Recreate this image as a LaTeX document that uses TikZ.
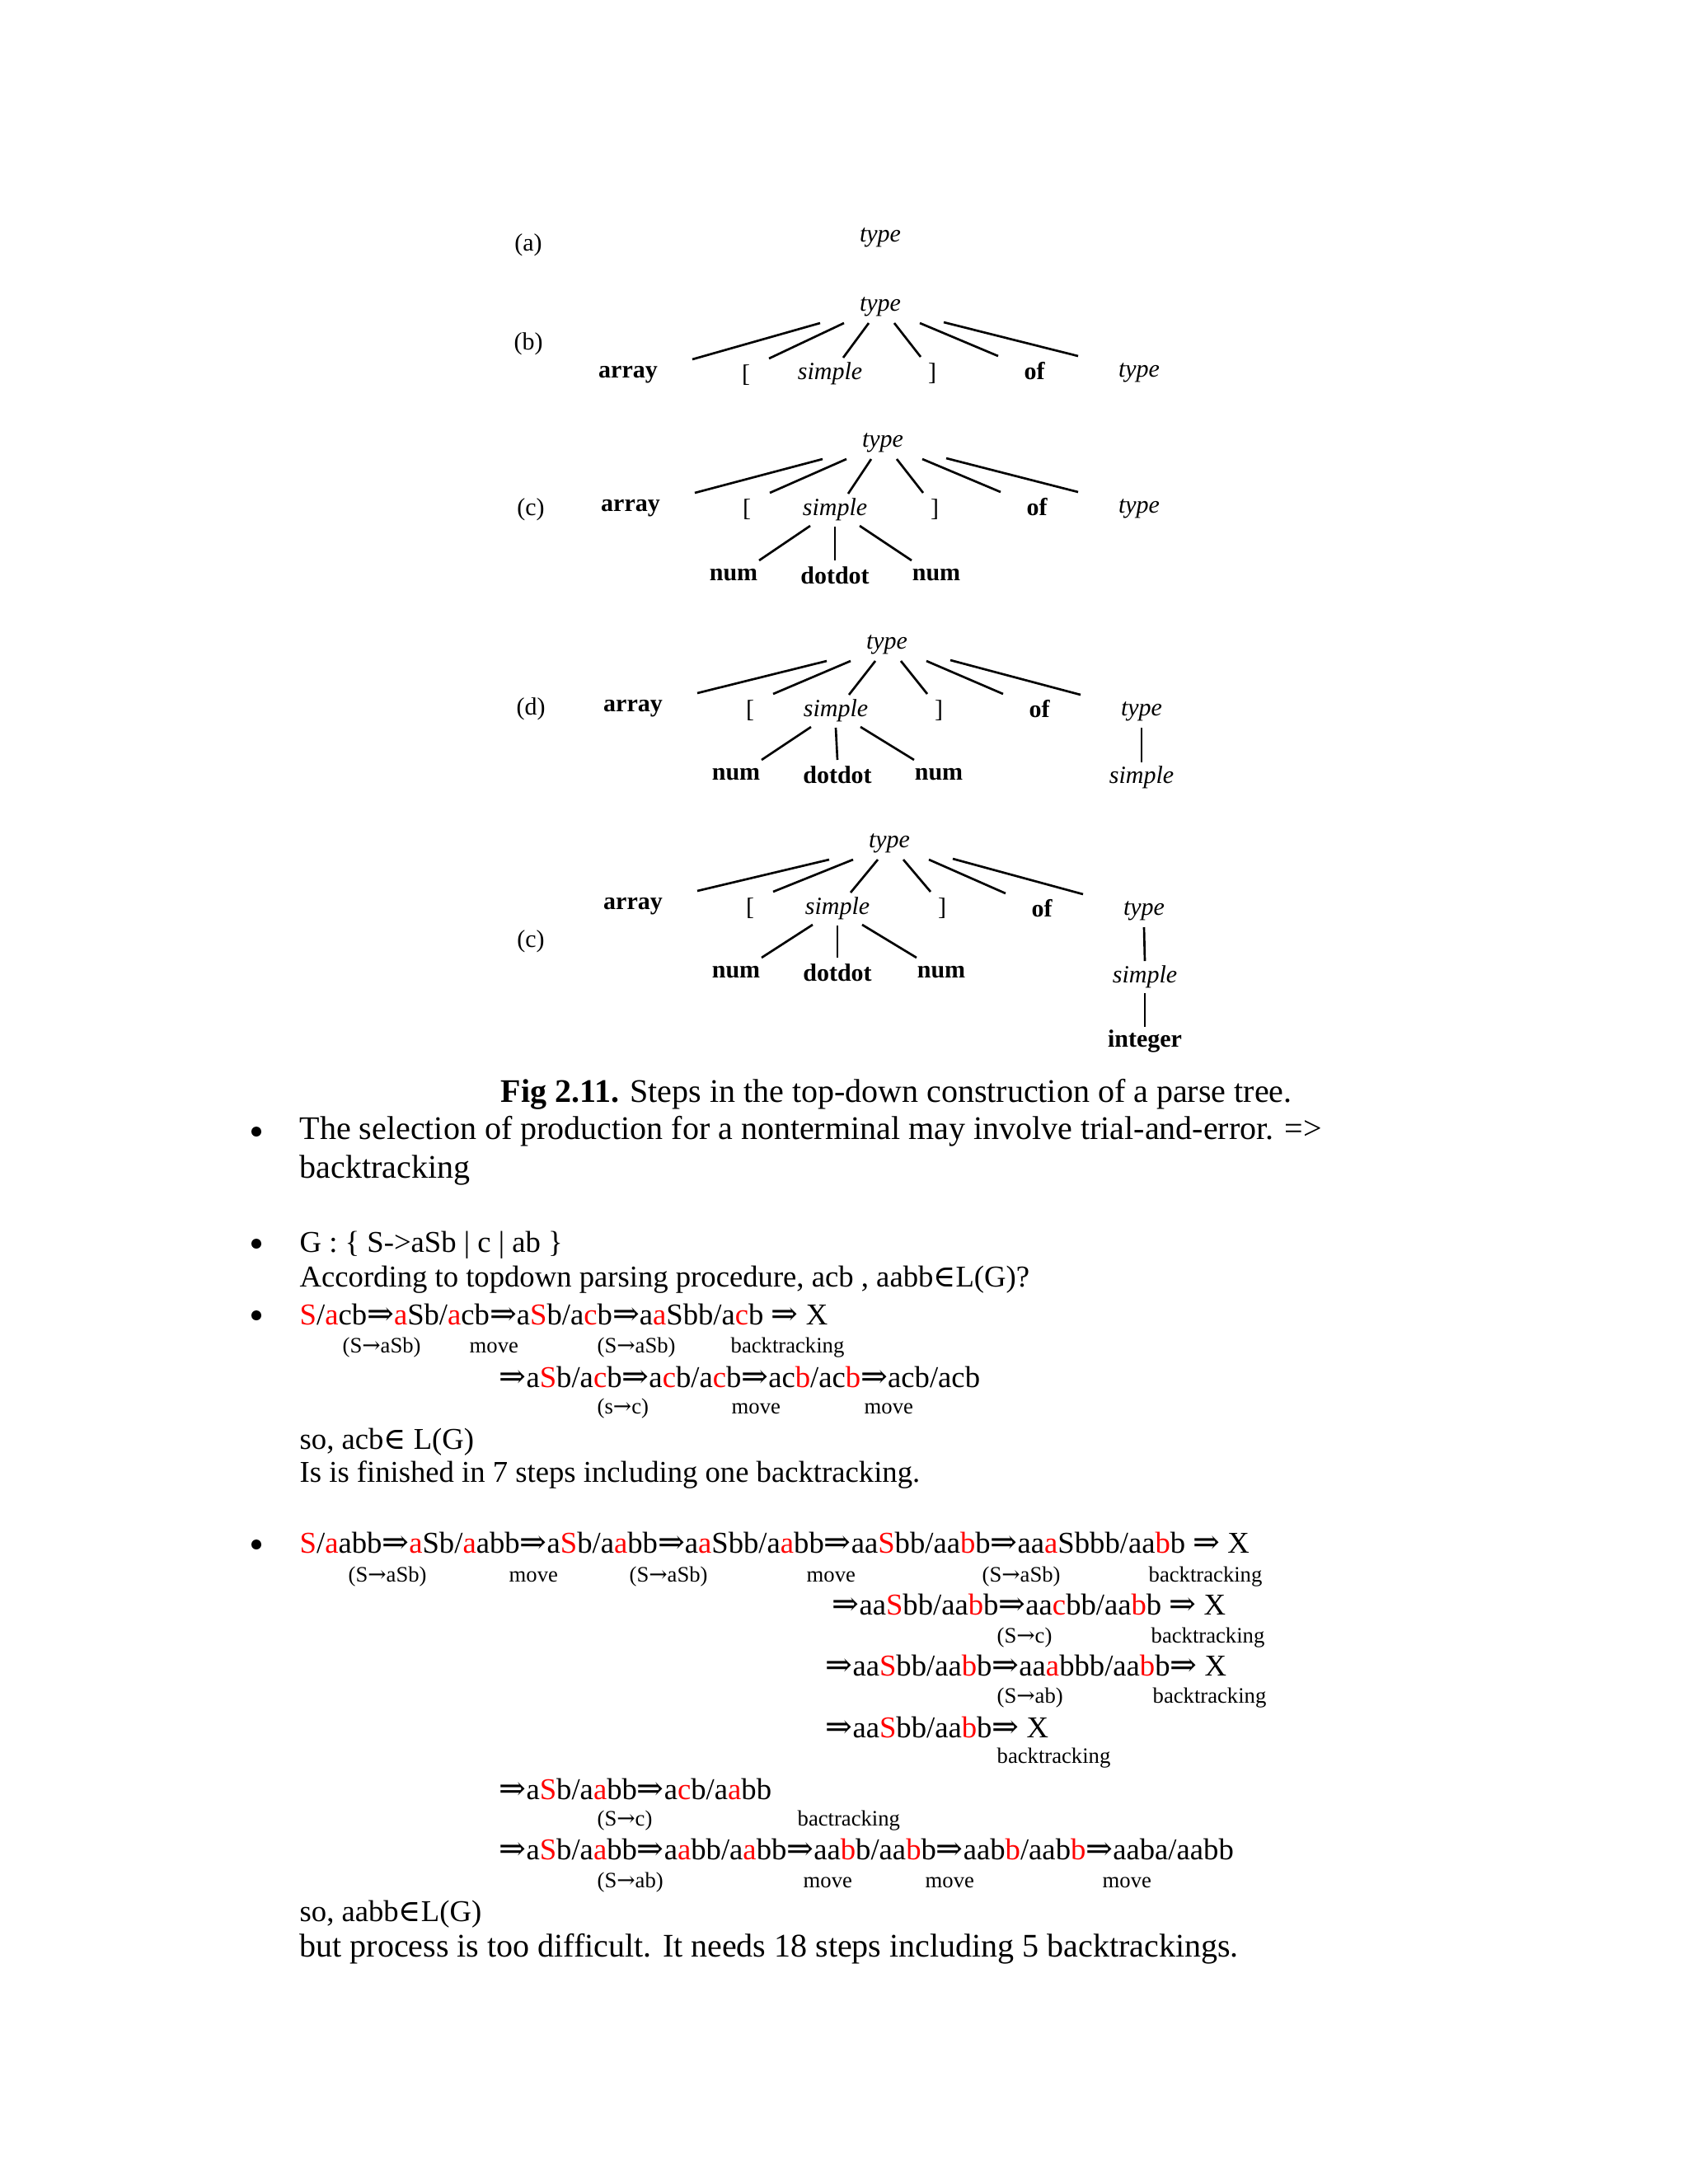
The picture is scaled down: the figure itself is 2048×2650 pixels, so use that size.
\documentclass[tikz,border=0pt]{standalone}
\usepackage{fontspec}
\setmainfont{Liberation Serif}
\newfontfamily\symfont{DejaVu Serif}
\newfontfamily\dblfont[Scale=1.07]{DejaVu Serif}
\usetikzlibrary{calc}
\definecolor{rd}{RGB}{255,0,0}
\newcommand\rr[1]{\textcolor{rd}{#1}}
\newcommand\dbl{{\dblfont ⇒}}
\newcommand\sar{{\symfont →}}
\newcommand\inn{{\symfont ∈}}
\newcommand\treefan[7]{%
  \draw[edge] ($(#1)+(-73,20)$) -- ($(#2)+(78,-19)$);
  \draw[edge] ($(#1)+(-44,20)$) -- ($(#3)+(28,-20)$);
  \draw[edge] ($(#1)+(-14,20)$) -- ($(#4)+(16,-19)$);
  \draw[edge] ($(#1)+(17,20)$) -- ($(#5)+(-14,-20)$);
  \draw[edge] ($(#1)+(48,20)$) -- ($(#6)+(-44,-18)$);
  \draw[edge] ($(#1)+(77,19)$) -- ($(#7)+(-74,-20)$);}
\newcommand\subtreefan[4]{%
  \draw[edge] ($(#1)+(-30,20)$) -- ($(#2)+(31,-18)$);
  \draw[edge] ($(#1)+(0,21)$) -- ($(#3)+(0,-18)$);
  \draw[edge] ($(#1)+(30,20)$) -- ($(#4)+(-30,-18)$);}
\begin{document}
\begin{tikzpicture}[x=0.3pt,y=-0.3pt,
  tree/.style={font=\fontsize{9}{11}\selectfont, inner sep=0pt},
  nt/.style={tree, font=\fontsize{9}{11}\selectfont\itshape},
  term/.style={tree, font=\fontsize{9}{11}\selectfont\bfseries},
  edge/.style={line width=0.8pt},
  body/.style={font=\fontsize{12}{14}\selectfont, anchor=base west, inner sep=0pt},
  mid/.style={font=\fontsize{11}{13}\selectfont, anchor=base west, inner sep=0pt},
  small/.style={font=\fontsize{8}{10}\selectfont, anchor=base west, inner sep=0pt},
  bul/.style={circle, fill=black, inner sep=0pt, minimum size=12*0.3pt}]
\useasboundingbox (0,0) rectangle (2048,2650);
\fill[white] (0,0) rectangle (2048,2650);

% ---------- (a)
\node[tree] (la) at (641,297) {(a)};
\node[nt] (ta) at (1068,288) {type};

% ---------- (b)
\node[tree] (lb) at (641,417) {(b)};
\node[nt] (tb) at (1068,372) {type};
\node[term] (b1) at (762,455) {array};
\node[tree] (b2) at (905,455) {[};
\node[nt] (b3) at (1007,453) {simple};
\node[tree] (b4) at (1131,453) {]};
\node[term] (b5) at (1255,450) {of};
\node[nt] (b6) at (1382,452) {type};
\treefan{tb}{b1}{b2}{b3}{b4}{b5}{b6}

% ---------- (c)
\node[tree] (lc) at (644,618) {(c)};
\node[nt] (tc) at (1071,537) {type};
\node[term] (c1) at (765,617) {array};
\node[tree] (c2) at (906,618) {[};
\node[nt] (c3) at (1013,618) {simple};
\node[tree] (c4) at (1134,618) {]};
\node[term] (c5) at (1258,615) {of};
\node[nt] (c6) at (1382,617) {type};
\node[term] (cn1) at (890,698) {num};
\node[term] (cd) at (1013,698) {dotdot};
\node[term] (cn2) at (1136,698) {num};
\treefan{tc}{c1}{c2}{c3}{c4}{c5}{c6}
\subtreefan{c3}{cn1}{cd}{cn2}

% ---------- (d)
\node[tree] (ld) at (644,860) {(d)};
\node[nt] (td) at (1076,782) {type};
\node[term] (d1) at (768,860) {array};
\node[tree] (d2) at (910,862) {[};
\node[nt] (d3) at (1014,862) {simple};
\node[tree] (d4) at (1139,862) {]};
\node[term] (d5) at (1261,860) {of};
\node[nt] (d6) at (1385,863) {type};
\node[term] (dn1) at (893,940) {num};
\node[term] (dd) at (1016,940) {dotdot};
\node[term] (dn2) at (1139,940) {num};
\node[nt] (ds) at (1385,943) {simple};
\treefan{td}{d1}{d2}{d3}{d4}{d5}{d6}
\subtreefan{d3}{dn1}{dd}{dn2}
\draw[edge] ($(d6)+(0,20)$) -- ($(ds)+(0,-18)$);

% ---------- (e) printed as (c)
\node[tree] (le) at (644,1142) {(c)};
\node[nt] (te) at (1079,1023) {type};
\node[term] (e1) at (768,1100) {array};
\node[tree] (e2) at (910,1102) {[};
\node[nt] (e3) at (1016,1102) {simple};
\node[tree] (e4) at (1143,1102) {]};
\node[term] (e5) at (1264,1102) {of};
\node[nt] (e6) at (1388,1105) {type};
\node[term] (en1) at (893,1180) {num};
\node[term] (ed) at (1016,1180) {dotdot};
\node[term] (en2) at (1142,1180) {num};
\node[nt] (es) at (1389,1185) {simple};
\node[term] (ei) at (1389,1263) {integer};
\treefan{te}{e1}{e2}{e3}{e4}{e5}{e6}
\subtreefan{e3}{en1}{ed}{en2}
\draw[edge] ($(e6)+(0,20)$) -- ($(es)+(0,-19)$);
\draw[edge] ($(es)+(0,20)$) -- ($(ei)+(0,-17)$);

% ---------- caption
\node[body] (cap) at (607,1337) {\textbf{Fig 2.11.} Steps in the top-down construction of a parse tree.};

% ---------- item 1
\node[bul] (bu1) at (311,1373) {};
\node[body] (t1a) at (363,1382) {The selection of production for a nonterminal may involve trial-and-error. =>};
\node[body] (t1b) at (363,1429) {backtracking};

% ---------- item 2
\node[bul] (bu2) at (311,1509) {};
\node[mid] (t2a) at (363,1519) {G : \{ S->aSb | c | ab \}};
\node[mid] (t2b) at (363,1561) {According to topdown parsing procedure, acb , aabb\inn L(G)?};

% ---------- item 3
\node[bul] (bu3) at (311,1596) {};
\node[mid] (t3a) at (363,1607) {\rr{S}/\rr{a}cb\dbl\rr{a}Sb/\rr{a}cb\dbl a\rr{S}b/a\rr{c}b\dbl a\rr{a}Sbb/a\rr{c}b \dbl{} X};
\node[small] (s3a) at (415,1641) {(S\sar aSb)};
\node[small] (s3b) at (569,1641) {move};
\node[small] (s3c) at (724,1641) {(S\sar aSb)};
\node[small] (s3d) at (886,1641) {backtracking};
\node[mid] (t3b) at (605,1683) {\dbl a\rr{S}b/a\rr{c}b\dbl a\rr{c}b/a\rr{c}b\dbl ac\rr{b}/ac\rr{b}\dbl acb/acb};
\node[small] (s3e) at (724,1715) {(s\sar c)};
\node[small] (s3f) at (887,1715) {move};
\node[small] (s3g) at (1048,1715) {move};
\node[mid] (t3c) at (363,1758) {so, acb\inn{} L(G)};
\node[mid] (t3d) at (363,1798) {Is is finished in 7 steps including one backtracking.};

% ---------- item 4
\node[bul] (bu4) at (311,1874) {};
\node[mid] (t4a) at (363,1884) {\rr{S}/\rr{a}abb\dbl\rr{a}Sb/\rr{a}abb\dbl a\rr{S}b/a\rr{a}bb\dbl a\rr{a}Sbb/a\rr{a}bb\dbl aa\rr{S}bb/aa\rr{b}b\dbl aa\rr{a}Sbbb/aa\rr{b}b \dbl{} X};
\node[small] (s4a) at (422,1919) {(S\sar aSb)};
\node[small] (s4b) at (617,1919) {move};
\node[small] (s4c) at (763,1919) {(S\sar aSb)};
\node[small] (s4d) at (978,1919) {move};
\node[small] (s4e) at (1191,1919) {(S\sar aSb)};
\node[small] (s4f) at (1393,1919) {backtracking};
\node[mid] (t4b) at (1009,1959) {\dbl aa\rr{S}bb/aa\rr{b}b\dbl aa\rr{c}bb/aa\rr{b}b \dbl{} X};
\node[small] (s4g) at (1209,1993) {(S\sar c)};
\node[small] (s4h) at (1396,1993) {backtracking};
\node[mid] (t4c) at (1001,2033) {\dbl aa\rr{S}bb/aa\rr{b}b\dbl aa\rr{a}bbb/aa\rr{b}b\dbl{} X};
\node[small] (s4i) at (1209,2066) {(S\sar ab)};
\node[small] (s4j) at (1398,2066) {backtracking};
\node[mid] (t4d) at (1001,2108) {\dbl aa\rr{S}bb/aa\rr{b}b\dbl{} X};
\node[small] (s4k) at (1209,2139) {backtracking};
\node[mid] (t4e) at (605,2183) {\dbl a\rr{S}b/a\rr{a}bb\dbl a\rr{c}b/a\rr{a}bb};
\node[small] (s4l) at (724,2215) {(S\sar c)};
\node[small] (s4m) at (967,2215) {bactracking};
\node[mid] (t4f) at (605,2256) {\dbl a\rr{S}b/a\rr{a}bb\dbl a\rr{a}bb/a\rr{a}bb\dbl aa\rr{b}b/aa\rr{b}b\dbl aab\rr{b}/aab\rr{b}\dbl aaba/aabb};
\node[small] (s4n) at (724,2290) {(S\sar ab)};
\node[small] (s4o) at (974,2290) {move};
\node[small] (s4p) at (1122,2290) {move};
\node[small] (s4q) at (1337,2290) {move};
\node[mid] (t4g) at (363,2331) {so, aabb\inn L(G)};
\node[body] (t4h) at (363,2374) {but process is too difficult. It needs 18 steps including 5 backtrackings.};
\end{tikzpicture}
\end{document}
